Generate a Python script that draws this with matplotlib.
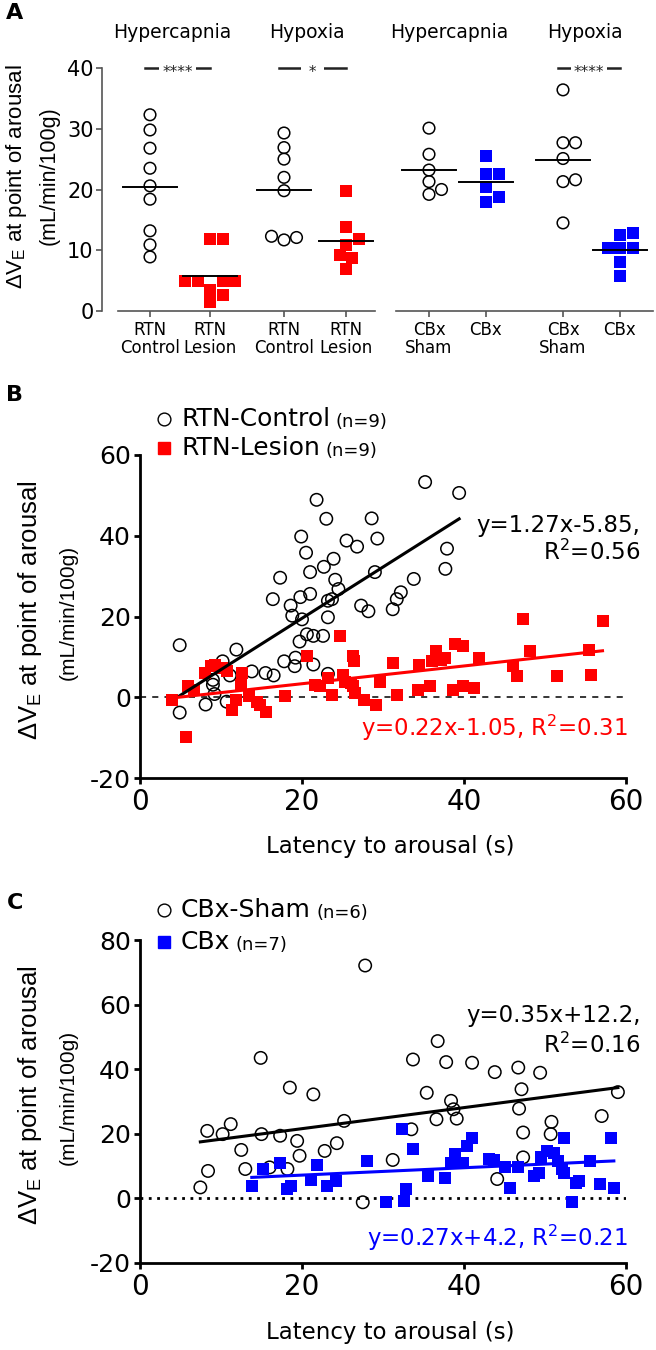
import numpy as np
import matplotlib
matplotlib.use("Agg")
import matplotlib.pyplot as plt
from matplotlib.lines import Line2D

plt.rcParams["font.family"] = ["DejaVu Sans"]
plt.rcParams["axes.unicode_minus"] = False

W, H = 656, 1350
RED = "#ff0000"
BLUE = "#0000ff"
LABEL_FONT = ["Liberation Sans", "DejaVu Sans"]

# --------------------------------------------------------------
# Panel A data (delta VE at arousal, mL/min/100g)
# --------------------------------------------------------------
a_groups = ["RTN\nControl", "RTN\nLesion", "RTN\nControl", "RTN\nLesion",
            "CBx\nSham", "CBx", "CBx\nSham", "CBx"]
a_titles = ["Hypercapnia", "Hypoxia", "Hypercapnia", "Hypoxia"]

hc_rtn_control = [32.3, 29.8, 26.8, 23.5, 20.6, 18.4, 13.2, 10.9, 8.9]
hc_rtn_lesion = [11.8, 11.8, 5.0, 5.0, 5.0, 5.0, 3.5, 1.5, 2.6]
hx_rtn_control = [29.3, 26.9, 25.0, 22.0, 19.8, 12.3, 11.7, 12.1]
hx_rtn_lesion = [19.8, 13.9, 11.8, 10.9, 9.2, 8.7, 6.9]
hc_cbx_sham = [30.1, 25.8, 23.2, 21.3, 20.0, 19.2]
hc_cbx = [25.5, 22.6, 22.6, 20.4, 18.8, 18.0]
hx_cbx_sham = [36.4, 27.7, 27.7, 25.1, 21.6, 21.3, 14.5]
hx_cbx = [12.5, 12.9, 10.3, 10.3, 10.3, 8.1, 5.8]

a_values = [hc_rtn_control, hc_rtn_lesion, hx_rtn_control, hx_rtn_lesion,
            hc_cbx_sham, hc_cbx, hx_cbx_sham, hx_cbx]
a_kind = ["ctrl", "rtn", "ctrl", "rtn", "ctrl", "cbx", "ctrl", "cbx"]
a_sig = [(0, 1, "****"), (2, 3, " * "), (6, 7, "****")]

# --------------------------------------------------------------
# Panel B data (RTN)
# --------------------------------------------------------------
b_ctrl_x = [4.9, 4.9, 8.1, 9.2, 9.0, 9.0, 10.2, 11.1, 10.7, 11.9, 13.8, 15.5,
            16.5, 16.4, 17.3, 17.8, 18.6, 19.1, 19.2, 18.8, 19.7, 19.8, 20.0,
            19.9, 20.5, 20.6, 21.0, 21.0, 21.4, 21.4, 21.8, 22.6, 22.7, 23.0,
            23.2, 23.2, 23.7, 23.9, 24.1, 24.5, 23.2, 25.5, 26.8, 27.3, 28.2,
            28.6, 29.0, 29.3, 31.2, 31.7, 32.2, 33.8, 35.2, 37.7, 37.9, 39.4]
b_ctrl_y = [12.9, -3.8, -1.8, 0.8, 3.1, 4.3, 8.9, 5.4, -1.1, 11.8, 6.4, 6.0,
            5.4, 24.3, 29.6, 8.9, 22.7, 7.7, 9.8, 20.2, 13.8, 24.8, 19.3,
            39.8, 35.8, 15.6, 31.0, 25.6, 15.2, 8.1, 48.9, 15.2, 32.3, 44.2,
            19.8, 23.9, 24.3, 34.3, 29.1, 26.8, 5.8, 38.8, 37.3, 22.7, 21.3,
            44.3, 31.0, 39.3, 21.8, 24.3, 26.0, 29.3, 53.3, 31.8, 36.8, 50.6]
b_les_x = [4.0, 5.7, 5.9, 6.7, 8.0, 8.8, 9.3, 10.1, 10.7, 11.3, 11.9, 12.6,
           12.5, 13.4, 14.4, 14.8, 15.5, 17.9, 20.6, 21.6, 22.2, 23.2, 23.7,
           24.7, 25.0, 25.3, 26.0, 26.3, 26.4, 26.3, 26.5, 27.6, 29.1, 29.6,
           31.2, 31.7, 34.3, 34.5, 35.8, 36.1, 36.5, 37.1, 37.6, 38.7, 38.9,
           39.9, 39.9, 41.2, 41.8, 46.1, 46.6, 47.3, 48.2, 51.5, 55.4, 55.7, 57.1]
b_les_y = [-0.7, -9.8, 2.7, 1.8, 6.0, 7.7, 8.1, 7.3, 6.4, -3.2, -0.7, 6.0,
           3.1, 0.2, -1.1, -1.9, -3.6, 0.4, 10.2, 3.1, 2.7, 4.8, 0.6,
           15.2, 5.6, 3.9, 3.5, 10.2, 8.9, 2.7, 1.0, -0.7, -1.9, 3.9,
           8.5, 0.6, 1.8, 8.1, 2.7, 8.9, 11.4, 9.3, 9.8, 1.8, 13.1,
           12.7, 2.7, 2.3, 9.8, 7.7, 5.2, 19.3, 11.4, 5.2, 11.6, 5.4, 18.8]
b_fit = [(1.27, -5.85), (0.22, -1.05)]
b_labels = ["RTN-Control", "RTN-Lesion"]
b_n = ["(n=9)", "(n=9)"]

# --------------------------------------------------------------
# Panel C data (CBx)
# --------------------------------------------------------------
c_sham_x = [7.45, 8.3, 8.4, 10.2, 11.2, 12.5, 13.0, 14.9, 15.0, 16.0, 17.3,
            18.2, 18.5, 19.4, 19.7, 21.4, 22.8, 24.3, 25.2, 27.8, 27.5, 31.2,
            33.5, 33.7, 35.4, 36.6, 36.75, 37.8, 38.4, 38.7, 39.1, 41.0, 43.8,
            44.1, 46.7, 47.1, 46.8, 47.3, 47.3, 49.4, 50.8, 50.7, 57.0, 59.0]
c_sham_y = [3.4, 20.9, 8.5, 19.9, 23.0, 15.0, 9.1, 43.5, 19.9, 9.6, 19.4,
            9.1, 34.3, 17.8, 13.2, 32.2, 14.7, 17.1, 24.0, 72.1, -1.2, 11.9,
            21.4, 43.0, 32.7, 24.5, 48.7, 42.2, 30.2, 27.6, 24.7, 42.0, 39.1,
            6.0, 40.5, 33.8, 27.8, 20.4, 12.7, 38.9, 23.7, 19.9, 25.5, 32.9]
c_cbx_x = [13.8, 15.2, 17.3, 18.1, 18.6, 21.1, 21.8, 23.1, 24.2, 28.0, 30.4,
           32.3, 32.6, 32.8, 33.7, 35.6, 37.6, 38.4, 38.9, 39.9, 40.4, 41.0,
           43.1, 43.7, 45.1, 45.7, 46.7, 48.7, 49.3, 49.5, 50.3, 51.1, 51.6,
           52.4, 52.1, 52.4, 53.3, 53.8, 54.2, 55.6, 56.8, 58.1, 58.5]
c_cbx_y = [3.9, 9.1, 11.1, 2.9, 3.9, 5.8, 10.3, 3.9, 5.5, 11.6, -1.2,
           21.4, -0.7, 2.9, 15.4, 6.8, 6.2, 11.1, 13.7, 11.1, 16.1, 18.8,
           12.1, 11.9, 9.6, 3.1, 9.6, 7.0, 8.0, 12.7, 14.7, 14.2, 11.6,
           18.8, 9.1, 8.0, -1.0, 4.9, 5.5, 11.6, 4.4, 18.8, 3.1]
c_fit = [(0.326, 15.07), (0.114, 4.93)]   # lines as drawn in the figure
c_labels = ["CBx-Sham", "CBx"]
c_n = ["(n=6)", "(n=7)"]


def fx(px):
    return px / W


def fy(py):
    return 1 - py / H


def swarm_offsets(y_px, d):
    # simple beeswarm: push points sideways until they don't overlap
    order = np.argsort(y_px)
    steps = [0.0]
    for k in range(1, 9):
        steps += [k * d / 2, -k * d / 2]
    placed = []
    offs = np.zeros(len(y_px))
    for i in order:
        for s in steps:
            if all(np.hypot(s - px, y_px[i] - py) >= 0.9 * d for px, py in placed):
                break
        offs[i] = s
        placed.append((s, y_px[i]))
    return offs


fig = plt.figure(figsize=(W / 100, H / 100), dpi=100)

# --------------------------------------------------------------
# A) dot plots
# --------------------------------------------------------------
a_pos = [150, 210, 284, 346, 429, 486, 563, 620]
axA = fig.add_axes([fx(102), fy(311), (653 - 102) / W, (311 - 68) / H])
axA.set_xlim(102, 653)
axA.set_ylim(0, 40)
ppy = (311 - 68) / 40.0

for p, vals, kind in zip(a_pos, a_values, a_kind):
    vals = np.array(vals)
    xs = p + swarm_offsets(vals * ppy, 12.5)
    if kind == "ctrl":
        axA.scatter(xs, vals, s=70, facecolor="none", edgecolor="black",
                    linewidth=1.1, clip_on=False, zorder=3)
    else:
        c = RED if kind == "rtn" else BLUE
        axA.scatter(xs, vals, s=82, marker="s", color=c, linewidth=0,
                    clip_on=False, zorder=3)
    m = vals.mean()
    axA.plot([p - 27, p + 27], [m, m], color="black", lw=1.4, zorder=4)

for i, j, stars in a_sig:
    x1, x2 = a_pos[i] - 5, a_pos[j]
    axA.plot([x1, x2], [40, 40], color="#222222", lw=1.8, clip_on=False)
    axA.annotate(stars, xy=((x1 + x2) / 2, 40), xytext=(0, -6.4),
                 textcoords="offset points", ha="center", va="baseline",
                 fontsize=11, color="#222222", annotation_clip=False,
                 bbox=dict(boxstyle="square,pad=0.2", fc="white", ec="none"))

for s in ["top", "right", "bottom"]:
    axA.spines[s].set_visible(False)
axA.spines["left"].set_color("#555555")
axA.spines["left"].set_linewidth(1.2)
axA.plot([118, 375], [0, 0], color="#555555", lw=1.2, clip_on=False)
axA.plot([396, 653], [0, 0], color="#555555", lw=1.2, clip_on=False)
axA.set_yticks([0, 10, 20, 30, 40])
axA.set_xticks(a_pos)
axA.set_xticklabels(a_groups, fontsize=12, linespacing=1.0)
axA.tick_params(axis="y", length=4, width=1.2, color="#555555", labelsize=15, pad=2)
axA.tick_params(axis="x", length=4, width=1.2, color="#555555", pad=3)

for x, t in zip([172, 307, 449, 585], a_titles):
    fig.text(fx(x), fy(33), t, fontsize=13.5, ha="center", va="center")

fig.text(fx(17), fy(177), r"ΔV$_\mathregular{E}$ at point of arousal", rotation=90,
         ha="center", va="center", fontsize=16, family=LABEL_FONT)
fig.text(fx(49), fy(176), "(mL/min/100g)", rotation=90,
         ha="center", va="center", fontsize=15.5, family=LABEL_FONT)


# --------------------------------------------------------------
# B) and C) scatter + regression
# --------------------------------------------------------------
def scatter_panel(top, bottom, ylim, yticks, ctrl, treat, fits, color, zero_ls,
                  texts, legend, leg_rows):
    ax = fig.add_axes([fx(140), fy(bottom), 486 / W, (bottom - top) / H])
    ax.set_xlim(0, 60)
    ax.set_ylim(*ylim)
    ax.axhline(0, color="black", lw=zero_ls[1], ls=zero_ls[0], zorder=1)
    ax.scatter(ctrl[0], ctrl[1], s=80, facecolor="none", edgecolor="black",
               linewidth=1.1, clip_on=False, zorder=3)
    ax.scatter(treat[0], treat[1], s=85, marker="s", color=color, linewidth=0,
               clip_on=False, zorder=3)
    for (a, b), xy, c in zip(fits, [ctrl, treat], ["black", color]):
        xs = np.array([min(xy[0]), max(xy[0])])
        ax.plot(xs, a * xs + b, color=c, lw=2.2, zorder=4)

    for s in ["top", "right"]:
        ax.spines[s].set_visible(False)
    for s in ["left", "bottom"]:
        ax.spines[s].set_linewidth(2.0)
    ax.set_yticks(yticks)
    ax.set_xticks([0, 20, 40, 60])
    ax.tick_params(axis="y", length=4.5, width=2.0, labelsize=18, pad=2)
    ax.tick_params(axis="x", length=4.5, width=2.0, labelsize=20, pad=3)

    for x, y, s, c in texts:
        ax.text(x, y, s, ha="right", va="center", fontsize=16.5, color=c,
                clip_on=False)

    for (py, marker, mfc, mec), lab, n in zip(leg_rows, legend[0], legend[1]):
        fig.add_artist(Line2D([fx(164)], [fy(py)], marker=marker, ms=9.2,
                              mfc=mfc, mec=mec, mew=1.0, ls="none",
                              transform=fig.transFigure))
        t = fig.text(fx(181), fy(py), lab, fontsize=18, va="center")
        ax.annotate(n, xy=(1, 0), xycoords=t, xytext=(4, 0),
                    textcoords="offset points", va="bottom", fontsize=13,
                    annotation_clip=False)

    mid = (top + bottom) / 2
    fig.text(fx(30), fy(mid - 6), r"ΔV$_\mathregular{E}$ at point of arousal",
             rotation=90, ha="center", va="center", fontsize=18.5, family=LABEL_FONT)
    fig.text(fx(68), fy(mid - 4), "(mL/min/100g)", rotation=90,
             ha="center", va="center", fontsize=15, family=LABEL_FONT)
    fig.text(fx(390), fy(bottom + 69), "Latency to arousal (s)", ha="center",
             va="center", fontsize=16.5)
    return ax


axB = scatter_panel(455, 778, (-20, 60), [-20, 0, 20, 40, 60],
                    (b_ctrl_x, b_ctrl_y), (b_les_x, b_les_y), b_fit, RED,
                    ((0, (4, 4)), 1.1),
                    [(61.8, 42.6, "y=1.27x-5.85,", "black"),
                     (61.8, 35.9, r"R$^\mathregular{2}$=0.56", "black"),
                     (60.2, -7.7, r"y=0.22x-1.05, R$^\mathregular{2}$=0.31", RED)],
                    (b_labels, b_n),
                    [(419, "o", "none", "black"), (448, "s", RED, RED)])

axC = scatter_panel(940, 1263, (-20, 80), [-20, 0, 20, 40, 60, 80],
                    (c_sham_x, c_sham_y), (c_cbx_x, c_cbx_y), c_fit, BLUE,
                    ((0, (1, 2)), 2.0),
                    [(61.8, 56.6, "y=0.35x+12.2,", "black"),
                     (61.8, 47.4, r"R$^\mathregular{2}$=0.16", "black"),
                     (60.2, -12.1, r"y=0.27x+4.2, R$^\mathregular{2}$=0.21", BLUE)],
                    (c_labels, c_n),
                    [(910, "o", "none", "black"), (942, "s", BLUE, BLUE)])

for lab, py in [("A", 13), ("B", 395), ("C", 903)]:
    fig.text(fx(15), fy(py), lab, fontsize=16, weight="bold", ha="center", va="center")

fig.savefig("out.png", dpi=100)
